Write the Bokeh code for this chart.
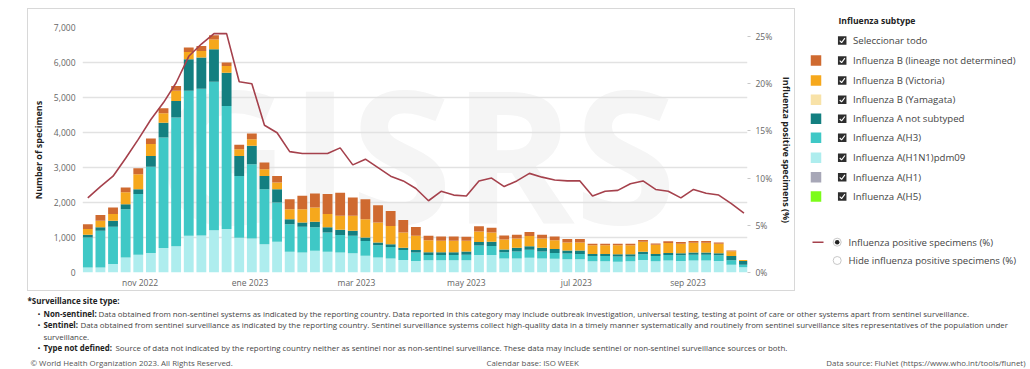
import pandas as pd
from bokeh.plotting import figure
from bokeh.models import (ColumnDataSource, Range1d, LinearAxis, FixedTicker,
                          NumeralTickFormatter, PrintfTickFormatter, Spacer, Label)
from bokeh.layouts import row, column
from bokeh.core.properties import value
from bokeh.embed import file_html
from bokeh.resources import INLINE

FONT = "Open Sans"

# ---------------- data ----------------
week_start = pd.date_range("2022-10-03", periods=53, freq="7D")

a_h5 = [0] * 53
a_h1 = [0] * 53
a_h1n1pdm09 = [140, 140, 240, 430, 510, 560, 700, 750, 1050, 1060, 1210, 1240, 990, 970,
               810, 880, 590, 570, 620, 590, 570, 550, 480, 430, 400, 360, 330,
               350, 350, 350, 350, 500, 500, 400, 400, 420, 400, 390, 380, 380,
               320, 320, 310, 320, 360, 320, 340, 330, 340, 340, 330, 220, 150]
a_h3 = [860, 1050, 1070, 1380, 1730, 2460, 3160, 3680, 4140, 4190, 4240, 3520, 1770, 2120,
        1570, 1120, 790, 740, 670, 550, 500, 500, 420, 350, 330, 280, 240,
        150, 150, 150, 160, 270, 260, 180, 200, 230, 200, 170, 160, 150,
        150, 150, 150, 140, 160, 150, 160, 160, 170, 170, 160, 130, 70]
a_not_subtyped = [80, 100, 170, 140, 140, 310, 420, 470, 900, 890, 930, 950, 570, 530,
                  380, 380, 140, 120, 160, 150, 150, 140, 100, 80, 80, 70, 70,
                  80, 80, 80, 90, 100, 120, 80, 110, 100, 110, 110, 90, 100,
                  60, 60, 60, 60, 70, 60, 60, 60, 60, 60, 60, 120, 110]
b_yamagata = [0] * 53
b_victoria = [160, 190, 190, 340, 430, 340, 270, 290, 210, 190, 280, 190, 190, 190,
              190, 190, 290, 380, 410, 380, 400, 430, 520, 570, 520, 430, 410,
              340, 330, 330, 310, 300, 260, 280, 260, 290, 260, 250, 230, 230,
              250, 250, 260, 260, 290, 260, 280, 270, 280, 280, 270, 140, 30]
b_lineage_nd = [140, 160, 190, 140, 170, 160, 140, 140, 130, 140, 120, 100, 130, 160,
                190, 190, 280, 380, 400, 570, 660, 520, 570, 490, 430, 360, 250,
                130, 120, 120, 110, 150, 140, 120, 110, 120, 110, 110, 100, 100,
                40, 40, 40, 40, 50, 40, 50, 50, 50, 50, 40, 20, 0]
pct_positive = [7.9, 9.1, 10.2, 12.1, 14.1, 16.2, 18.0, 20.1, 22.9, 24.2,
                25.3, 25.3, 20.2, 20.0, 15.6, 14.8, 12.8, 12.6, 12.6, 12.6,
                13.2, 11.4, 12.0, 11.1, 10.2, 9.7, 8.9, 7.6, 8.6, 8.2,
                8.1, 9.7, 10.0, 9.1, 9.7, 10.5, 10.1, 9.8, 9.7, 9.7,
                8.1, 8.6, 8.7, 9.4, 9.7, 8.8, 8.6, 7.9, 8.8, 8.4,
                8.2, 7.3, 6.3]

subtype_keys = ["a_h5", "a_h1", "a_h1n1pdm09", "a_h3", "a_not_subtyped",
                "b_yamagata", "b_victoria", "b_lineage_nd"]
subtype_labels = ["Influenza A(H5)", "Influenza A(H1)", "Influenza A(H1N1)pdm09",
                  "Influenza A(H3)", "Influenza A not subtyped", "Influenza B (Yamagata)",
                  "Influenza B (Victoria)", "Influenza B (lineage not determined)"]
subtype_colors = ["#7CFC1A", "#A7A7B7", "#AEEDEE", "#3FC8C6", "#137F80",
                  "#F8E2A8", "#F6A81C", "#CF6A30"]

y_ticks = [0, 1000, 2000, 3000, 4000, 5000, 6000, 7000]
pct_ticks = [0, 5, 10, 15, 20, 25]
month_tick_dates = ["2022-11-01", "2023-01-01", "2023-03-01", "2023-05-01", "2023-07-01", "2023-09-01"]
month_tick_labels = ["nov 2022", "ene 2023", "mar 2023", "may 2023", "jul 2023", "sep 2023"]

legend_title = "Influenza subtype"
select_all_label = "Seleccionar todo"
line_label = "Influenza positive specimens (%)"
hide_label = "Hide influenza positive specimens (%)"

# ---------------- main chart ----------------
source = ColumnDataSource(dict(
    week=week_start, a_h5=a_h5, a_h1=a_h1, a_h1n1pdm09=a_h1n1pdm09, a_h3=a_h3,
    a_not_subtyped=a_not_subtyped, b_yamagata=b_yamagata, b_victoria=b_victoria,
    b_lineage_nd=b_lineage_nd, pct=pct_positive))

WEEK = pd.Timedelta(days=7)
x0 = week_start[0]


def ms(ts):
    return int(pd.Timestamp(ts).value // 10**6)


p = figure(width=768, height=283, x_axis_type="datetime",
           x_range=Range1d(x0 - 0.42 * WEEK, x0 + 52.28 * WEEK),
           y_range=Range1d(0, 7000),
           output_backend="svg", toolbar_location=None,
           min_border_left=51, min_border_right=45, min_border_top=18, min_border_bottom=20)
p.styles = {"border": "1px solid #d8d8d8"}
p.outline_line_color = None
p.background_fill_color = "white"
p.border_fill_color = "white"
p.xgrid.grid_line_color = None
p.ygrid.grid_line_color = "#e2e2e2"
p.ygrid.grid_line_width = 1.5

wm = Label(x=ms(x0 + 26 * WEEK), y=3450, text="GISRS",
           text_font=FONT, text_font_size="185px", text_font_style="bold",
           text_color="#f5f5f5", text_align="center", text_baseline="middle", level="image")
p.add_layout(wm)

p.vbar_stack(subtype_keys, x="week", width=0.78 * 7 * 86400000, color=subtype_colors,
             line_color=None, source=source)

p.extra_y_ranges = {"pct": Range1d(0, 25.95)}
p.line(x="week", y="pct", source=source, y_range_name="pct",
       line_color="#A5414C", line_width=1.6)

# left axis
ya = p.yaxis[0]
ya.ticker = FixedTicker(ticks=y_ticks)
ya.formatter = NumeralTickFormatter(format="0,0")
ya.axis_label = "Number of specimens"
ya.axis_line_color = None
ya.major_tick_line_color = None
ya.minor_tick_line_color = None
ya.major_tick_out = 0
ya.major_tick_in = 0
ya.minor_tick_out = 0
ya.minor_tick_in = 0
ya.major_label_standoff = 7
ya.axis_label_standoff = 6

# right axis
ax_r = LinearAxis(y_range_name="pct", ticker=FixedTicker(ticks=pct_ticks),
                  formatter=PrintfTickFormatter(format="%d%%"),
                  axis_label="Influenza positive specimens (%)")
ax_r.axis_line_color = None
ax_r.major_tick_line_color = "#c8c8c8"
ax_r.major_tick_out = 3
ax_r.major_tick_in = 0
ax_r.minor_tick_line_color = None
ax_r.minor_tick_out = 0
ax_r.minor_tick_in = 0
ax_r.major_label_standoff = 5
ax_r.axis_label_standoff = 5
p.add_layout(ax_r, "right")

# x axis
xa = p.xaxis[0]
tick_ms = [ms(d) for d in month_tick_dates]
xa.ticker = FixedTicker(ticks=tick_ms)
xa.major_label_overrides = {t: l for t, l in zip(tick_ms, month_tick_labels)}
xa.axis_line_color = None
xa.major_tick_line_color = None
xa.minor_tick_line_color = None
xa.major_tick_out = 0
xa.major_tick_in = 0
xa.minor_tick_out = 0
xa.minor_tick_in = 0
xa.major_label_standoff = 4

for ax in (ya, ax_r, xa):
    ax.major_label_text_font = FONT
    ax.major_label_text_font_size = "8.5px"
    ax.major_label_text_color = "#666666"
for ax in (ya, ax_r):
    ax.axis_label_text_font = FONT
    ax.axis_label_text_font_size = "9px"
    ax.axis_label_text_font_style = "bold"
    ax.axis_label_text_color = "#222222"

# ---------------- legend panel ----------------
# In a row, the legend's frame is aligned with the chart frame (page y 26..271);
# coordinates below are page-y minus 8.
lg = figure(width=235, height=283, x_range=Range1d(0, 235), y_range=Range1d(263, 18),
            output_backend="svg", toolbar_location=None, min_border=0,
            title=legend_title)
lg.axis.visible = False
lg.grid.visible = False
lg.outline_line_color = None
lg.title.text_font = FONT
lg.title.text_font_size = "8.6px"
lg.title.text_font_style = "bold"
lg.title.text_color = "#222222"
lg.title.align = "left"
lg.title.offset = 43
lg.title.standoff = 0


def txt(fig, x, y, s, size="8px", bold=False, color="#444444", align="left"):
    fig.text(x=[x], y=[y], text=[s], text_font=value(FONT), text_font_size=size,
             text_font_style="bold" if bold else "normal", text_color=color,
             text_align=align, text_baseline="middle")


def checkbox(fig, x, y):
    fig.rect(x=[x], y=[y], width=8.5, height=8.5, fill_color="#2e2e2e", line_color=None)
    fig.line(x=[x - 2.5, x - 0.6, x + 2.7], y=[y + 0.2, y + 2.1, y - 2.3],
             line_color="white", line_width=1.1)


LS = "9.6px"
checkbox(lg, 46.7, 32)
txt(lg, 57.5, 32, select_all_label, size=LS)
legend_rows = list(zip(subtype_labels, subtype_colors))[::-1]
row_y = [52, 72, 91.3, 110.3, 129.3, 149.3, 168.7, 188]
for (lab, col), yy in zip(legend_rows, row_y):
    lg.rect(x=[20.5], y=[yy], width=10.5, height=10.5, fill_color=col, line_color=None)
    checkbox(lg, 46.7, yy)
    txt(lg, 57.5, yy, lab, size=LS)

lg.line(x=[17, 28], y=[233.7, 233.7], line_color="#A5414C", line_width=1.6)
lg.scatter(x=[41.7], y=[233.7], size=8, fill_color="white", line_color="#c8c8c8")
lg.scatter(x=[41.7], y=[233.7], size=4.5, fill_color="#222222", line_color=None)
txt(lg, 53, 233.7, line_label, size=LS)
lg.scatter(x=[41.7], y=[252], size=8, fill_color="white", line_color="#c8c8c8")
txt(lg, 53, 252, hide_label, size=LS)

# ---------------- notes ----------------
NH = 78
nt = figure(width=1030, height=NH, x_range=Range1d(0, 1030), y_range=Range1d(NH, 0),
            output_backend="svg", toolbar_location=None, min_border=0)
nt.axis.visible = False
nt.grid.visible = False
nt.outline_line_color = None

NS = "7.9px"
txt(nt, 27, 9, "*Surveillance site type:", size="8px", bold=True, color="#222222")
bullets = [
    (22.3, "Non-sentinel:", 98,
     "Data obtained from non-sentinel systems as indicated by the reporting country. Data reported in this category may include outbreak investigation, universal testing, testing at point of care or other systems apart from sentinel surveillance."),
    (33.3, "Sentinel:", 80,
     "Data obtained from sentinel surveillance as indicated by the reporting country. Sentinel surveillance systems collect high-quality data in a timely manner systematically and routinely from sentinel surveillance sites representatives of the population under"),
    (56.7, "Type not defined:", 115,
     "Source of data not indicated by the reporting country neither as sentinel nor as non-sentinel surveillance. These data may include sentinel or non-sentinel surveillance sources or both."),
]
for yy, b, xr, rest in bullets:
    txt(nt, 37, yy, "\u2022", size=NS, color="#222222")
    txt(nt, 43, yy, b, size=NS, bold=True, color="#222222")
    txt(nt, xr, yy, rest, size=NS, color="#444444")
txt(nt, 43, 45.7, "surveillance.", size=NS, color="#444444")
txt(nt, 30, 71.5, "\u00a9 World Health Organization 2023. All Rights Reserved.", size=NS, color="#555555")
txt(nt, 486, 71.5, "Calendar base: ISO WEEK", size=NS, color="#555555")
txt(nt, 1025, 71.5, "Data source: FluNet (https://www.who.int/tools/flunet)", size=NS,
    color="#555555", align="right")

layout = column(Spacer(width=1030, height=8),
                row(Spacer(width=27, height=283), p, lg),
                nt)
open("out.html", "w").write(file_html(layout, INLINE))
